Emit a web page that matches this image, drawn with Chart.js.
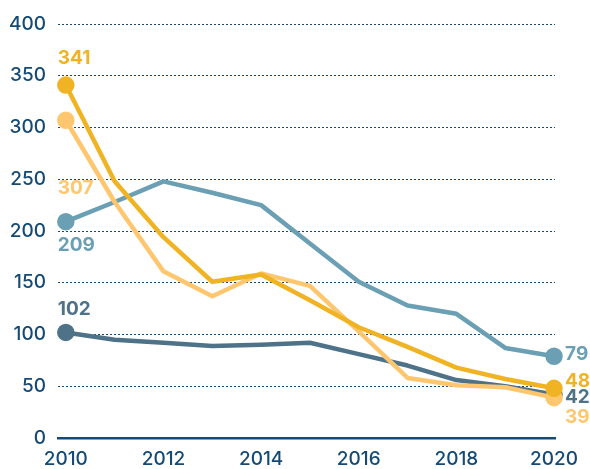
<!DOCTYPE html>
<html>
<head>
<meta charset="utf-8">
<script src="https://cdn.jsdelivr.net/npm/chart.js@4"></script>
<style>
  html, body { margin: 0; padding: 0; background: #fff; }
  #wrap { width: 590px; height: 469px; }
</style>
</head>
<body>
<div id="wrap"><canvas id="chart" width="590" height="469"></canvas></div>
<script>
// Data
const years = [2010, 2011, 2012, 2013, 2014, 2015, 2016, 2017, 2018, 2019, 2020];
const xTicks = [2010, 2012, 2014, 2016, 2018, 2020];
const yTicks = [0, 50, 100, 150, 200, 250, 300, 350, 400];

const goldValues  = [341, 248, 194, 151, 158, 133, 107, 88, 68, 57, 48];
const peachValues = [307, 228, 161, 137, 159, 147, 103, 58, 51, 49, 39];
const tealValues  = [209, 228, 248, 237, 225, 188, 151, 128, 120, 87, 79];
const slateValues = [102, 95, 92, 89, 90, 92, 81, 70, 56, 50, 42];

const axisColor = '#154a75';
const font = "Inter, 'Noto Sans', sans-serif";

// label offsets (px) for first / last value of each line
const labelStyle = [
  { color: '#f0b323', start: [-8, -27], end: [11, -7] },
  { color: '#fec76f', start: [-8, 68], end: [11, 20] },
  { color: '#6a9fb4', start: [-8, 24], end: [11, -2] },
  { color: '#4e7288', start: [-8, -23], end: [11, 3] }
];

function series(values, color) {
  return {
    data: years.map((y, i) => ({ x: y, y: values[i] })),
    borderColor: color,
    backgroundColor: color,
    borderWidth: 4.5,
    borderJoinStyle: 'round',
    borderCapStyle: 'round',
    tension: 0,
    pointRadius: years.map((y, i) => (i === 0 || i === years.length - 1) ? 6.5 : 0),
    pointHoverRadius: 0,
    clip: false
  };
}

const endLabels = {
  id: 'endLabels',
  afterDatasetsDraw(chart) {
    const ctx = chart.ctx;
    ctx.save();
    ctx.font = "700 19px " + font;
    ctx.textBaseline = 'middle';
    ctx.textAlign = 'left';
    chart.data.datasets.forEach((ds, i) => {
      const pts = chart.getDatasetMeta(i).data;
      const st = labelStyle[i];
      ctx.fillStyle = st.color;
      const first = pts[0], last = pts[pts.length - 1];
      ctx.fillText(ds.data[0].y, first.x + st.start[0], first.y + st.start[1]);
      ctx.fillText(ds.data[ds.data.length - 1].y, last.x + st.end[0], last.y + st.end[1]);
    });
    ctx.restore();
  }
};

new Chart(document.getElementById('chart').getContext('2d'), {
  type: 'line',
  data: {
    datasets: [
      series(goldValues, '#f0b323'),
      series(peachValues, '#fec76f'),
      series(tealValues, '#6a9fb4'),
      series(slateValues, '#4e7288')
    ]
  },
  options: {
    responsive: false,
    animation: false,
    events: [],
    layout: { padding: { top: 24, right: 35, bottom: 0, left: 0 } },
    plugins: { legend: { display: false }, tooltip: { enabled: false } },
    scales: {
      x: {
        type: 'linear',
        min: 2009.84,
        max: 2020.02,
        afterBuildTicks: (axis) => { axis.ticks = xTicks.map(v => ({ value: v })); },
        afterFit: (axis) => { axis.height = 31; },
        grid: { display: false, drawTicks: false },
        border: { display: true, color: axisColor, width: 2.5 },
        ticks: {
          color: axisColor,
          padding: 10,
          maxRotation: 0,
          autoSkip: false,
          font: { family: font, size: 19, weight: 500 },
          callback: (v) => String(v)
        }
      },
      y: {
        min: 0,
        max: 400,
        afterBuildTicks: (axis) => { axis.ticks = yTicks.map(v => ({ value: v })); },
        afterFit: (axis) => { axis.width = 58; },
        grid: { color: axisColor, lineWidth: 1, drawTicks: false },
        border: { display: false, dash: [2, 2] },
        ticks: {
          color: axisColor,
          padding: 12,
          font: { family: font, size: 19, weight: 500 }
        }
      }
    }
  },
  plugins: [endLabels]
});
</script>
</body>
</html>
